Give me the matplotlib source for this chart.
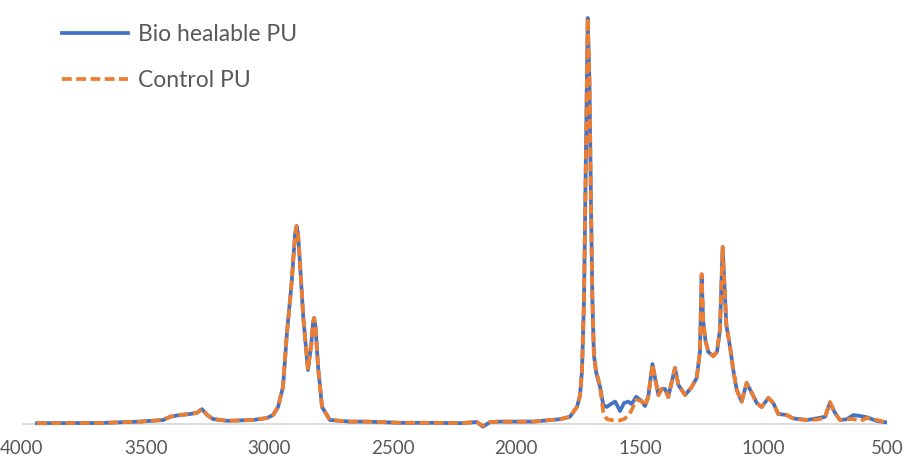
import matplotlib
matplotlib.use("Agg")
from matplotlib import pyplot as plt

plt.rcParams['font.family'] = ['Lato', 'DejaVu Sans']

# wavenumber (cm-1) and absorbance
wavenumber = [3939, 3684, 3523, 3429, 3401, 3361, 3320, 3292, 3272, 3251,
              3227, 3171, 3065, 3009, 2984, 2964, 2944, 2928, 2909, 2895,
              2889, 2883, 2875, 2862, 2843, 2830, 2822, 2818, 2812, 2802,
              2786, 2754, 2673, 2604, 2470, 2337, 2228, 2159, 2135, 2106,
              2066, 1932, 1823, 1783, 1754, 1742, 1734, 1726, 1718, 1711,
              1704, 1698, 1692, 1686, 1677, 1669, 1661, 1648, 1634, 1617,
              1600, 1580, 1564, 1547, 1533, 1515, 1493, 1479, 1466, 1449,
              1437, 1425, 1412, 1398, 1385, 1358, 1344, 1317, 1293, 1270,
              1257, 1250, 1244, 1235, 1223, 1203, 1188, 1176, 1165, 1150,
              1135, 1122, 1108, 1088, 1068, 1047, 1027, 1007, 980, 960,
              940, 906, 880, 825, 785, 751, 731, 710, 690, 663,
              636, 609, 582, 541, 500]

bio_pu = [0.002, 0.0025, 0.006, 0.010, 0.018, 0.0225, 0.025, 0.028, 0.037, 0.0225,
          0.0125, 0.008, 0.010, 0.015, 0.0225, 0.0425, 0.0925, 0.2275, 0.3525, 0.475,
          0.495, 0.475, 0.40, 0.2675, 0.135, 0.1975, 0.255, 0.265, 0.24, 0.1425,
          0.0425, 0.010, 0.006, 0.006, 0.003, 0.003, 0.002, 0.005, -0.007, 0.005,
          0.006, 0.006, 0.012, 0.018, 0.043, 0.0725, 0.135, 0.31, 0.685, 1.015,
          0.86, 0.56, 0.31, 0.1725, 0.13, 0.11, 0.0925, 0.0475, 0.0425, 0.05,
          0.056, 0.0325, 0.0525, 0.056, 0.05, 0.068, 0.0575, 0.045, 0.068, 0.15,
          0.11, 0.0725, 0.0875, 0.0875, 0.0675, 0.14, 0.0975, 0.0725, 0.09, 0.115,
          0.18, 0.3675, 0.26, 0.21, 0.18, 0.17, 0.18, 0.235, 0.4425, 0.2475,
          0.1925, 0.135, 0.085, 0.056, 0.1025, 0.0775, 0.0525, 0.0425, 0.065, 0.0525,
          0.025, 0.0225, 0.014, 0.010, 0.014, 0.018, 0.0525, 0.0275, 0.010, 0.012,
          0.0225, 0.020, 0.017, 0.0075, 0.004]

control_pu = [0.002, 0.0025, 0.006, 0.010, 0.018, 0.0225, 0.025, 0.028, 0.038, 0.0225,
              0.0125, 0.008, 0.010, 0.015, 0.0225, 0.0425, 0.0925, 0.2275, 0.3525, 0.475,
              0.495, 0.475, 0.40, 0.2675, 0.135, 0.1975, 0.255, 0.265, 0.24, 0.1425,
              0.0425, 0.010, 0.006, 0.006, 0.003, 0.003, 0.002, 0.005, -0.005, 0.005,
              0.006, 0.006, 0.012, 0.018, 0.043, 0.0725, 0.135, 0.31, 0.685, 1.015,
              0.86, 0.56, 0.31, 0.1725, 0.13, 0.115, 0.0925, 0.030, 0.0125, 0.010,
              0.009, 0.009, 0.0125, 0.020, 0.035, 0.060, 0.0575, 0.045, 0.068, 0.15,
              0.11, 0.0725, 0.0875, 0.0875, 0.0675, 0.14, 0.0975, 0.0725, 0.09, 0.115,
              0.18, 0.375, 0.26, 0.21, 0.18, 0.17, 0.18, 0.235, 0.4425, 0.2475,
              0.1925, 0.135, 0.085, 0.056, 0.1025, 0.0775, 0.0525, 0.0425, 0.065, 0.0525,
              0.025, 0.0225, 0.014, 0.010, 0.011, 0.015, 0.055, 0.0275, 0.010, 0.012,
              0.0125, 0.0075, 0.015, 0.010, 0.004]

x_ticks = [4000, 3500, 3000, 2500, 2000, 1500, 1000, 500]

fig = plt.figure(figsize=(9.1, 4.66), dpi=100)
ax = fig.add_axes([22 / 910, 1 - 432 / 466, 865 / 910, 424 / 466])

ax.axhline(0, color="#d9d9d9", lw=1.3, zorder=1)
ax.plot(wavenumber, bio_pu, color="#4472c4", lw=2.7, label="Bio healable PU",
        solid_joinstyle="round", zorder=2)
ax.plot(wavenumber, control_pu, color="#ed7d31", lw=2.7, linestyle=(0, (2.6, 1.2)),
        label="Control PU", zorder=3)

ax.set_xlim(4000, 500)
ax.set_ylim(-0.02, 1.04)
ax.set_xticks(x_ticks)
ax.set_xticklabels([str(t) for t in x_ticks])
ax.set_yticks([])
ax.tick_params(axis="x", length=0, pad=5.5, labelsize=13.5, labelcolor="#595959")
for s in ax.spines.values():
    s.set_visible(False)

leg = ax.legend(loc="upper left", bbox_to_anchor=(62 / 910, 1 - 24 / 466),
                bbox_transform=fig.transFigure, frameon=False, fontsize=16.5,
                handlelength=2.9, handletextpad=0.42, labelspacing=1.1,
                borderpad=0, borderaxespad=0)
for t in leg.get_texts():
    t.set_color("#595959")

fig.savefig("out.png", dpi=100)
